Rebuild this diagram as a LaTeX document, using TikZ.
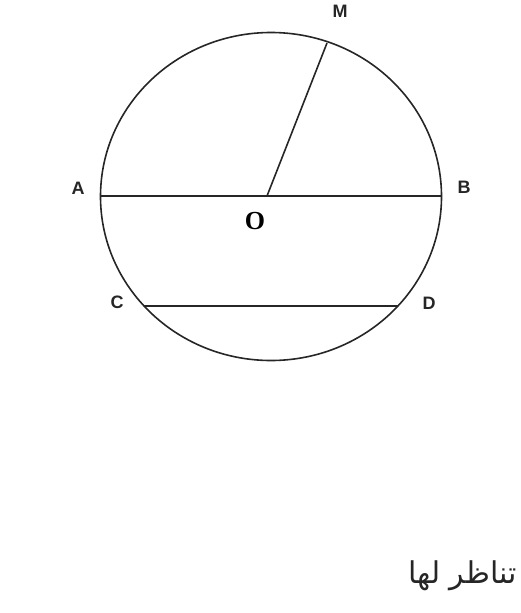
\documentclass[tikz,border=0pt]{standalone}
\usepackage{fontspec}
\setmainfont{Liberation Serif}
\setsansfont{Liberation Sans}
\newfontfamily\arabicfont[Script=Arabic]{DejaVu Sans}
\TeXXeTstate=1
\begin{document}
\begin{tikzpicture}[x=1pt,y=-1pt,
  geo/.style={line width=1.6pt,black!85},
  lbl/.style={font=\sffamily\bfseries\fontsize{18}{20}\selectfont,inner sep=0pt,text=black!85},
  ctr/.style={font=\rmfamily\bfseries\fontsize{26}{28}\selectfont,inner sep=0pt}]
\useasboundingbox (0,0) rectangle (521,613);
\coordinate (O) at (267,196);
\coordinate (A) at (100.5,196);
\coordinate (B) at (441.5,196);
\coordinate (C) at (144,306);
\coordinate (D) at (398,306);
\coordinate (M) at (327,43);
\draw[geo] (271,196.5) ellipse [x radius=170.5, y radius=164];
\draw[geo] (A) -- (B);
\draw[geo] (C) -- (D);
\draw[geo] (O) -- (M);
\node[lbl] (lM) at (340,11.5) {M};
\node[lbl] (lA) at (78,188) {A};
\node[lbl] (lB) at (464,187) {B};
\node[lbl] (lC) at (117,302) {C};
\node[lbl] (lD) at (429,303) {D};
\node[ctr] (lO) at (255,221) {O};
\node[inner sep=0pt,anchor=base east,text=black!85] (ar) at (517,583) {\arabicfont\fontsize{30}{34}\selectfont\beginR تناظر لها\endR};
\end{tikzpicture}
\end{document}
